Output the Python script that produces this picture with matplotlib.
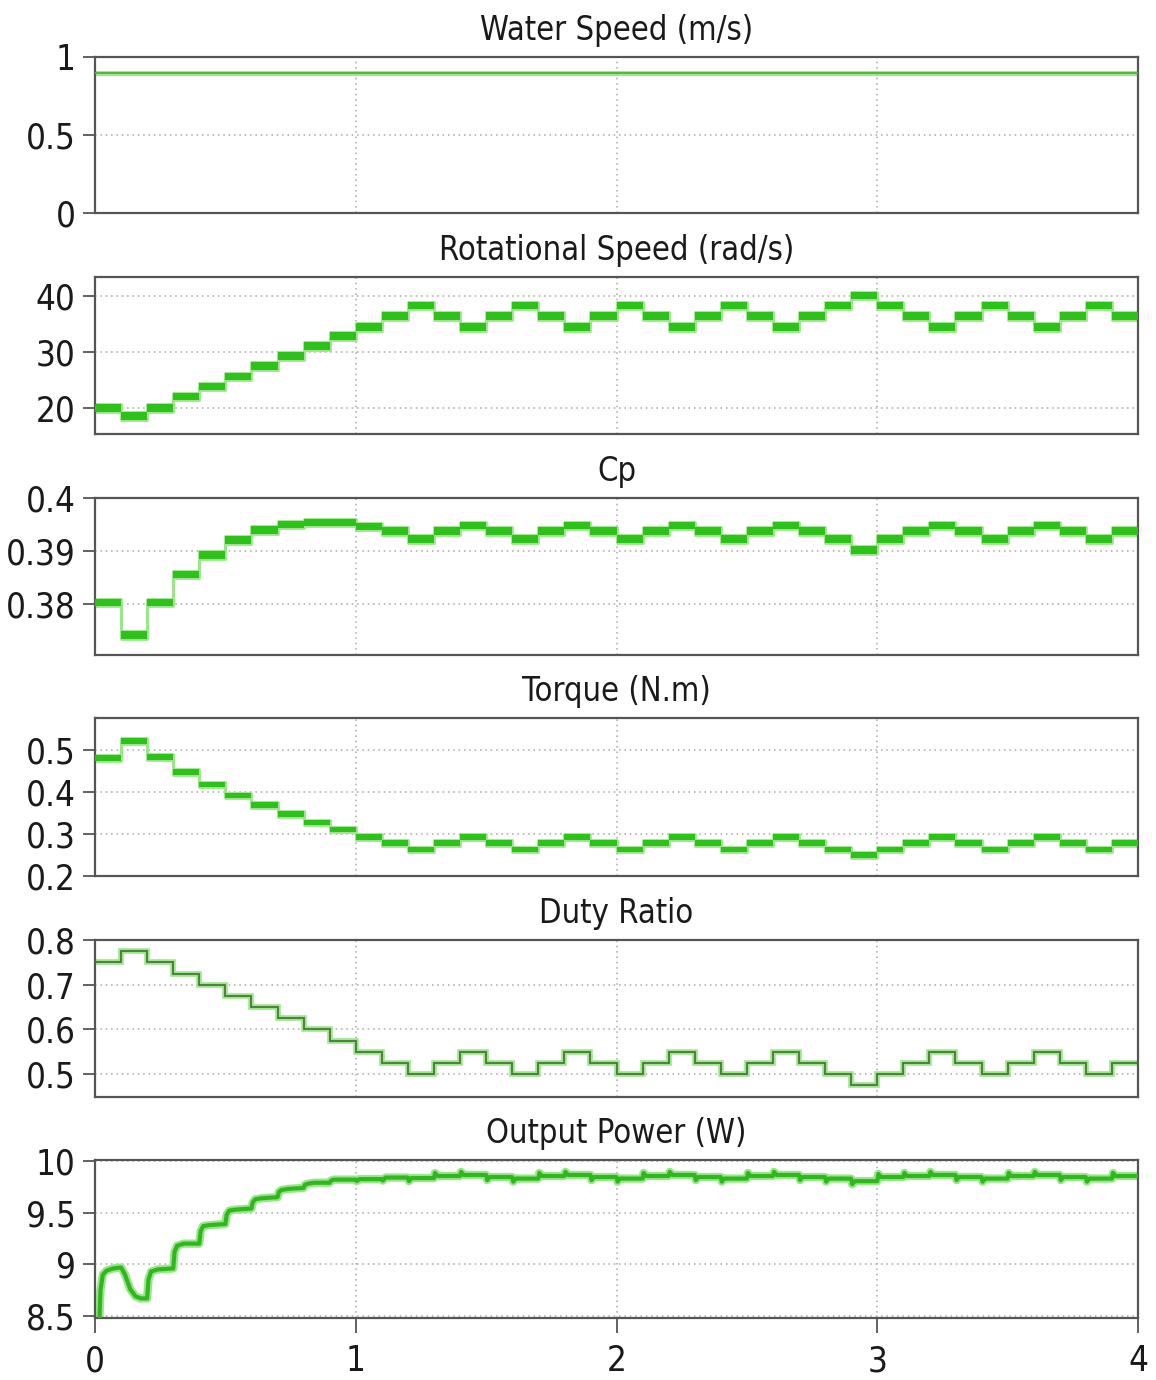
import numpy as np
import matplotlib
matplotlib.use('Agg')
import matplotlib.pyplot as plt
from matplotlib.ticker import FixedLocator, FixedFormatter

plt.rcParams['font.family'] = ['DejaVu Sans']
plt.rcParams['font.stretch'] = 'condensed'

# ---------------- data ----------------
step_duration = 0.1          # MPPT perturbation period (s)
water_speed = 0.9            # m/s, constant

duty_ratio = [0.75, 0.775, 0.75, 0.725, 0.70, 0.675, 0.65, 0.625, 0.60, 0.575,
              0.55, 0.525, 0.50, 0.525, 0.55, 0.525, 0.50, 0.525, 0.55, 0.525,
              0.50, 0.525, 0.55, 0.525, 0.50, 0.525, 0.55, 0.525, 0.50, 0.475,
              0.50, 0.525, 0.55, 0.525, 0.50, 0.525, 0.55, 0.525, 0.50, 0.525]

rot_speed = [20.0, 18.5, 20.0, 22.0, 23.8, 25.6, 27.5, 29.3, 31.0, 32.9,
             34.5, 36.4, 38.3, 36.4, 34.5, 36.4, 38.3, 36.4, 34.5, 36.4,
             38.3, 36.4, 34.5, 36.4, 38.3, 36.4, 34.5, 36.4, 38.3, 40.1,
             38.3, 36.4, 34.5, 36.4, 38.3, 36.4, 34.5, 36.4, 38.3, 36.4]

cp = [0.3802, 0.3741, 0.3802, 0.3855, 0.3892, 0.3920, 0.3939, 0.3950, 0.3954, 0.3954,
      0.3946, 0.3937, 0.3922, 0.3937, 0.3948, 0.3937, 0.3922, 0.3937, 0.3948, 0.3937,
      0.3922, 0.3937, 0.3948, 0.3937, 0.3922, 0.3937, 0.3948, 0.3937, 0.3922, 0.3902,
      0.3922, 0.3937, 0.3948, 0.3937, 0.3922, 0.3937, 0.3948, 0.3937, 0.3922, 0.3937]

torque = [0.480, 0.520, 0.482, 0.447, 0.417, 0.391, 0.368, 0.347, 0.327, 0.310,
          0.292, 0.278, 0.263, 0.278, 0.293, 0.278, 0.263, 0.278, 0.293, 0.278,
          0.263, 0.278, 0.293, 0.278, 0.263, 0.278, 0.293, 0.278, 0.263, 0.250,
          0.263, 0.278, 0.293, 0.278, 0.263, 0.278, 0.293, 0.278, 0.263, 0.278]

# output power, start-up transient (0 .. 1 s)
power_t_start = [0.0, 0.016, 0.021, 0.03, 0.045, 0.07, 0.1, 0.115, 0.135, 0.155, 0.175, 0.2,
                 0.205, 0.215, 0.24, 0.3, 0.305, 0.315, 0.34, 0.4, 0.405, 0.415, 0.44, 0.5,
                 0.505, 0.515, 0.54, 0.6, 0.605, 0.615, 0.64, 0.7, 0.705, 0.715, 0.74, 0.8,
                 0.805, 0.815, 0.84, 0.9, 0.905, 0.915, 0.94, 1.0]
power_v_start = [8.40, 8.40, 8.75, 8.90, 8.94, 8.96, 8.97, 8.90, 8.76, 8.69, 8.67, 8.67,
                 8.85, 8.93, 8.95, 8.96, 9.12, 9.18, 9.20, 9.20, 9.32, 9.37, 9.38, 9.39,
                 9.48, 9.52, 9.53, 9.54, 9.60, 9.63, 9.64, 9.65, 9.70, 9.72, 9.73, 9.74,
                 9.77, 9.78, 9.79, 9.79, 9.81, 9.82, 9.82, 9.82]
# output power, steady MPPT oscillation (1 .. 4 s): level per step and spike at step start
power_level = [9.825, 9.84, 9.835, 9.855, 9.865, 9.845, 9.83, 9.855, 9.865, 9.845,
               9.83, 9.855, 9.865, 9.845, 9.83, 9.855, 9.865, 9.845, 9.83, 9.805,
               9.845, 9.855, 9.865, 9.845, 9.83, 9.855, 9.865, 9.845, 9.83, 9.855]
power_spike = [-0.02, -0.03, -0.03, 0.03, 0.03, -0.03, -0.03, 0.03, 0.03, -0.03,
               -0.03, 0.03, 0.03, -0.03, -0.03, 0.03, 0.03, -0.03, -0.03, -0.03,
               0.03, 0.03, 0.03, -0.03, -0.03, 0.03, 0.03, -0.03, -0.03, 0.03]

titles = ['Water Speed (m/s)', 'Rotational Speed (rad/s)', 'Cp', 'Torque (N.m)',
          'Duty Ratio', 'Output Power (W)']
yticks = [[0, 0.5, 1], [20, 30, 40], [0.38, 0.39, 0.4], [0.2, 0.3, 0.4, 0.5],
          [0.5, 0.6, 0.7, 0.8], [8.5, 9, 9.5, 10]]
ytick_labels = [['0', '0.5', '1'], ['20', '30', '40'], ['0.38', '0.39', '0.4'],
                ['0.2', '0.3', '0.4', '0.5'], ['0.5', '0.6', '0.7', '0.8'],
                ['8.5', '9', '9.5', '10']]
ylims = [(0, 1), (15.3, 43.4), (0.3703, 0.4), (0.2, 0.575), (0.449, 0.8), (8.48, 10.01)]
xticks = [0, 1, 2, 3, 4]
xtick_labels = ['0', '1', '2', '3', '4']

# ---------------- layout ----------------
W, H = 1156, 1380
panels_px = [(57, 213), (277, 434), (498, 655), (718, 876), (940, 1097), (1160, 1318)]
left_px, right_px = 95, 1138

fig = plt.figure(figsize=(W / 100, H / 100), dpi=100)
fig.patch.set_facecolor('white')

SPINE = '#555555'
GRID = '#a8a8a8'
GREEN = '#2cc21a'
GLOW = '#9be68a'
TEXT = '#1a1a1a'

axes = []
for i, (top, bot) in enumerate(panels_px):
    ax = fig.add_axes([left_px / W, 1 - bot / H, (right_px - left_px) / W, (bot - top) / H])
    ax.set_xlim(0, 4)
    ax.set_ylim(*ylims[i])
    ax.yaxis.set_major_locator(FixedLocator(yticks[i]))
    ax.yaxis.set_major_formatter(FixedFormatter(ytick_labels[i]))
    ax.xaxis.set_major_locator(FixedLocator(xticks))
    ax.xaxis.set_major_formatter(FixedFormatter(xtick_labels))
    for g in xticks[1:-1]:
        ax.axvline(g, color=GRID, lw=1.1, ls=(0, (1, 2.5)), zorder=0)
    lo, hi = ylims[i]
    for yv in yticks[i]:
        if lo <= yv <= hi:
            ax.axhline(yv, color=GRID, lw=1.1, ls=(0, (1, 2.5)), zorder=0)
    for s in ax.spines.values():
        s.set_color(SPINE)
        s.set_linewidth(1.6)
    ax.tick_params(axis='y', direction='out', length=9, width=1.3, color=SPINE,
                   labelsize=25, pad=5, labelcolor=TEXT)
    ax.tick_params(axis='x', bottom=False, labelbottom=False)
    ax.annotate(titles[i], xy=(0.5, 1), xycoords='axes fraction', xytext=(0, 19),
                textcoords='offset points', ha='center', va='center', fontsize=23.5,
                color=TEXT)
    axes.append(ax)

axes[-1].tick_params(axis='x', bottom=True, labelbottom=True, direction='out', length=11,
                     width=1.3, color=SPINE, labelsize=25, pad=8, labelcolor=TEXT)

edges = np.arange(len(duty_ratio) + 1) * step_duration


def band(ax, vals, half, color=GREEN):
    y = np.append(vals, vals[-1])
    ax.fill_between(edges, y - half, y + half, step='post', color=GLOW, lw=2.0, zorder=2)
    ax.fill_between(edges, y - half, y + half, step='post', color=color, lw=0, zorder=3)


# Water speed
axes[0].plot([0, 4], [water_speed, water_speed], color=GLOW, lw=3.5, zorder=2)
axes[0].plot([0, 4], [water_speed, water_speed], color='#4cbb38', lw=1.4, zorder=3)

# Rotational speed
band(axes[1], np.array(rot_speed), 0.7)
# Cp
band(axes[2], np.array(cp), 0.00072)
# Torque
band(axes[3], np.array(torque), 0.0065)

# Duty ratio
axes[4].stairs(duty_ratio, edges, baseline=None, color=GLOW, lw=4, zorder=2)
axes[4].stairs(duty_ratio, edges, baseline=None, color='#467a36', lw=1.3, zorder=3)

# Output power
pt = list(power_t_start)
pv = list(power_v_start)
for k, (lvl, sp) in enumerate(zip(power_level, power_spike)):
    tb = 1.0 + k * step_duration
    pt += [tb + 0.004, tb + 0.014, tb + step_duration]
    pv += [lvl + sp, lvl, lvl]
axes[5].plot(pt, pv, color=GLOW, lw=6, solid_joinstyle='round', zorder=2)
axes[5].plot(pt, pv, color='#2fb81e', lw=3, solid_joinstyle='round', zorder=3)

fig.savefig('out.png', dpi=100, facecolor='white')
